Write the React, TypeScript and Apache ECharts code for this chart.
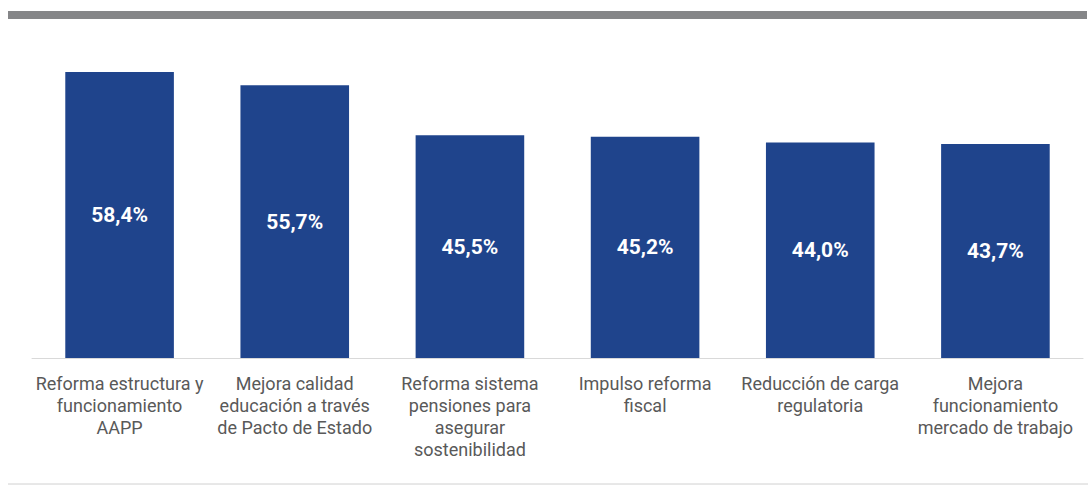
import React, { useEffect, useRef } from "react";
import * as echarts from "echarts";

const categories = [
  "Reforma estructura y\nfuncionamiento\nAAPP",
  "Mejora calidad\neducación a través\nde Pacto de Estado",
  "Reforma sistema\npensiones para\nasegurar\nsostenibilidad",
  "Impulso reforma\nfiscal",
  "Reducción de carga\nregulatoria",
  "Mejora\nfuncionamiento\nmercado de trabajo",
];
const values = [58.4, 55.7, 45.5, 45.2, 44.0, 43.7];

export default function App() {
  const ref = useRef<HTMLDivElement>(null);
  useEffect(() => {
    const chart = echarts.init(ref.current!, null, { renderer: "svg" });
    chart.setOption({
      animation: false,
      grid: { left: 32, right: 5, top: 64.2, bottom: 127, containLabel: false },
      xAxis: {
        type: "category",
        data: categories,
        axisLine: { show: true, lineStyle: { color: "#d9d9d9", width: 1 } },
        axisTick: { show: false },
        axisLabel: {
          interval: 0,
          color: "#595959",
          fontFamily: "Roboto",
          fontSize: 18,
          lineHeight: 22,
          margin: 14,
          align: "center",
        },
      },
      yAxis: {
        type: "value",
        min: 0,
        max: 60,
        show: false,
        splitLine: { show: false },
      },
      series: [
        {
          type: "bar",
          data: values,
          barWidth: "62%",
          itemStyle: { color: "#1F448C" },
          label: {
            show: true,
            position: "inside",
            color: "#ffffff",
            fontFamily: "Roboto",
            fontWeight: "bold",
            fontSize: 21,
            formatter: (p: any) => p.value.toFixed(1).replace(".", ",") + "%",
          },
        },
      ],
      graphic: [
        {
          type: "rect",
          shape: { x: 8, y: 11, width: 1079, height: 8 },
          style: { fill: "#858688" },
        },
        {
          type: "line",
          shape: { x1: 8, y1: 484, x2: 1088, y2: 484 },
          style: { stroke: "#d0d0d0", lineWidth: 1 },
        },
      ],
    });
    return () => chart.dispose();
  }, []);
  return <div ref={ref} style={{ width: 1088, height: 485, position: "absolute", left: 0, top: 0 }} />;
}
